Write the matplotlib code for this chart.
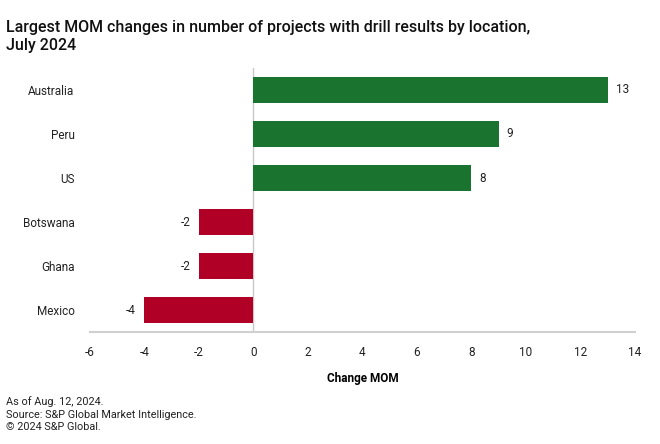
import matplotlib.pyplot as plt

# data
locations = ['Australia', 'Peru', 'US', 'Botswana', 'Ghana', 'Mexico']
changes = [13, 9, 8, -2, -2, -4]

green = '#1b7330'
red = '#b00026'
colors = [green if v > 0 else red for v in changes]

plt.rcParams['font.family'] = ['Roboto', 'DejaVu Sans']
plt.rcParams['axes.unicode_minus'] = False

fig = plt.figure(figsize=(6.6, 4.44), dpi=100)
ax = fig.add_axes([0.136, 0.252, 0.826, 0.595])

y = list(range(len(locations)))
ax.barh(y, changes, height=0.6, color=colors, zorder=2)
ax.set_ylim(len(locations) - 0.5, -0.5)
ax.set_xlim(-6, 14)
ax.set_xticks(range(-6, 15, 2))
ax.set_yticks(y)
ax.set_yticklabels(locations)

ax.axvline(0, color='#c8c8c8', lw=1, zorder=1)
for s in ['top', 'right', 'left']:
    ax.spines[s].set_visible(False)
ax.spines['bottom'].set_color('#d0d0d0')
ax.spines['bottom'].set_linewidth(1.5)
ax.tick_params(axis='both', length=0, labelsize=8.5, colors='#222222')
ax.tick_params(axis='x', pad=10)
ax.tick_params(axis='y', pad=11)

for yi, v in zip(y, changes):
    if v > 0:
        ax.text(v + 0.3, yi, str(v), va='center', ha='left', fontsize=8.5, color='#222222')
    else:
        ax.text(v - 0.3, yi, str(v), va='center', ha='right', fontsize=8.5, color='#222222')

ax.set_xlabel('Change MOM', fontsize=8.5, fontweight='bold', labelpad=9)

fig.text(0.009, 0.955, 'Largest MOM changes in number of projects with drill results by location,\nJuly 2024',
         fontsize=11.5, fontweight='medium', va='top', ha='left', linespacing=1.25, color='#111111')

fig.text(0.009, 0.108, 'As of Aug. 12, 2024.\nSource: S&P Global Market Intelligence.\n\u00a9 2024 S&P Global.',
         fontsize=7.8, va='top', ha='left', linespacing=1.33, color='#222222')

fig.savefig('out.png', dpi=100)
